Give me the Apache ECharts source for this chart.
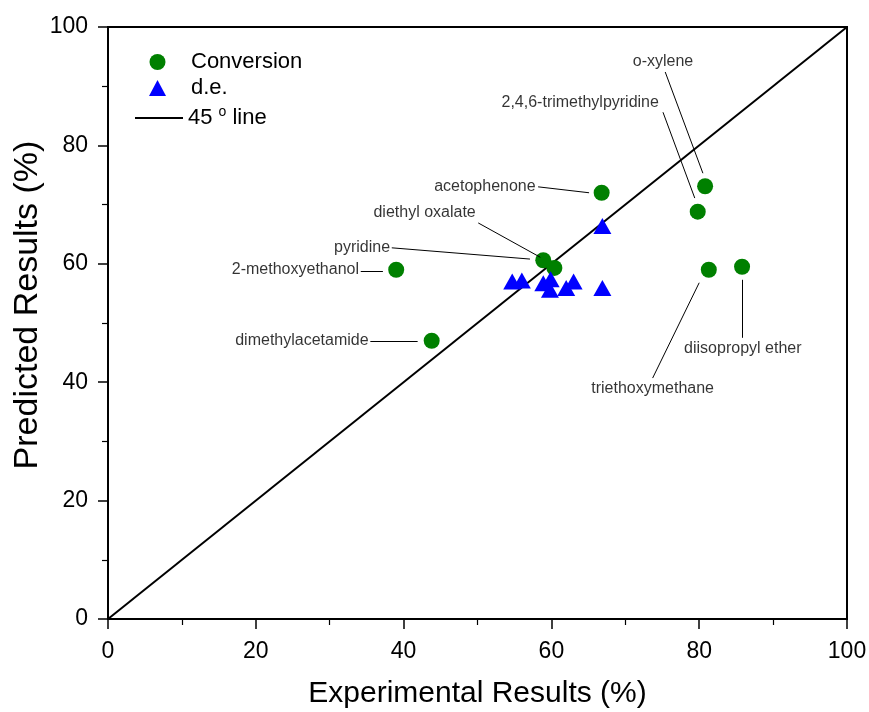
<!DOCTYPE html>
<html>
<head>
<meta charset="utf-8">
<script src="https://cdn.jsdelivr.net/npm/echarts@6/dist/echarts.min.js"></script>
<style>
  html, body { margin: 0; padding: 0; background: #fff; }
  #main { width: 869px; height: 712px; }
</style>
</head>
<body>
<div id="main"></div>
<script>
// experimental vs predicted (%)
var conversion = [[39.0, 59.0], [43.8, 47.0], [58.9, 60.6], [60.4, 59.3], [66.8, 72.0],
                  [79.8, 68.8], [80.8, 73.1], [81.3, 59.0], [85.8, 59.5]];
var de = [[54.7, 57.0], [56.0, 57.2], [58.9, 56.7], [59.9, 57.4], [59.8, 55.6],
          [62.0, 55.9], [63.0, 57.0], [66.9, 55.9], [66.9, 66.4]];
var diagonal = [[0, 0], [100, 100]];

// solvent annotations (data coordinates)
var labelNames = ['o-xylene', '2,4,6-trimethylpyridine', 'acetophenone', 'diethyl oxalate', 'pyridine',
                  '2-methoxyethanol', 'dimethylacetamide', 'triethoxymethane', 'diisopropyl ether'];
var labelAt = [[75.1, 94.1], [63.9, 87.3], [58.0, 73.0], [49.9, 68.6], [38.3, 62.8],
               [34.1, 59.0], [35.4, 47.0], [73.7, 39.0], [85.9, 45.6]];
var labelAlign = ['center', 'center', 'right', 'right', 'right', 'right', 'right', 'center', 'center'];
var leaderFrom = [[75.4, 92.4], [75.1, 85.6], [58.2, 73.0], [50.1, 66.9], [38.4, 62.7],
                  [34.2, 58.8], [35.5, 47.0], [73.7, 40.7], [85.8, 57.3]];
var leaderTo = [[80.5, 75.3], [79.4, 71.1], [65.1, 72.0], [58.5, 61.1], [57.1, 60.8],
                [37.2, 58.8], [41.9, 47.0], [80.0, 56.8], [85.8, 47.5]];

var xTicks = [0, 20, 40, 60, 80, 100];

var font = '"Liberation Sans", Arial, sans-serif';
var myChart = echarts.init(document.getElementById('main'));

var labelData = labelNames.map(function (n, i) {
    return {
        name: n,
        value: labelAt[i],
        label: labelAlign[i] == 'right' ? {position: 'left', distance: 1} : {position: 'inside'}
    };
});
var leaderData = leaderFrom.map(function (p, i) {
    return [{coord: p}, {coord: leaderTo[i]}];
});

function makeAxis(extra) {
    var a = {
        type: 'value',
        min: xTicks[0],
        max: xTicks[xTicks.length - 1],
        interval: 20,
        splitLine: {show: false},
        axisLine: {show: true, onZero: false, lineStyle: {color: '#000', width: 2}},
        axisTick: {show: true, inside: false, length: 10, lineStyle: {color: '#000', width: 1.5}},
        minorTick: {show: true, splitNumber: 2, length: 6, lineStyle: {color: '#000', width: 1.2}},
        nameLocation: 'middle',
        nameMoveOverlap: false
    };
    for (var k in extra) a[k] = extra[k];
    return a;
}

var option = {
    animation: false,
    backgroundColor: '#fff',
    grid: {
        left: 108, right: 22, top: 27, bottom: 93,
        outerBoundsMode: 'none',
        show: true, borderColor: '#000', borderWidth: 2, backgroundColor: 'transparent'
    },
    xAxis: makeAxis({
        name: 'Experimental Results (%)',
        nameGap: 60,
        nameTextStyle: {color: '#000', fontSize: 30, fontFamily: font},
        axisLabel: {color: '#000', fontSize: 23, fontFamily: font, margin: 21}
    }),
    yAxis: makeAxis({
        name: 'Predicted Results (%)',
        nameGap: 63,
        nameTextStyle: {color: '#000', fontSize: 34, fontFamily: font, padding: [0, 0, 0, 36]},
        axisLabel: {color: '#000', fontSize: 23, fontFamily: font, margin: 20}
    }),
    legend: [{
        orient: 'vertical',
        left: 144,
        top: 46,
        itemWidth: 17,
        itemHeight: 16,
        itemGap: 4,
        data: [{name: 'Conversion', icon: 'circle'}, {name: 'd.e.', icon: 'triangle'}],
        textStyle: {color: '#000', fontSize: 22, fontFamily: font, padding: [0, 0, 0, 20]}
    }, {
        orient: 'vertical',
        left: 130,
        top: 100,
        itemWidth: 48,
        itemHeight: 2,
        data: [{name: '45 o line', icon: 'rect'}],
        itemStyle: {color: '#000'},
        formatter: function (name) {
            return '45 {sup|o} line';
        },
        textStyle: {
            color: '#000', fontSize: 22, fontFamily: font,
            rich: {sup: {fontSize: 14, fontFamily: font, padding: [0, 0, 12, 0]}}
        }
    }],
    series: [{
        name: '45 o line',
        type: 'line',
        data: diagonal,
        symbol: 'none',
        lineStyle: {color: '#000', width: 2},
        itemStyle: {color: '#000'},
        z: 1
    }, {
        name: 'Conversion',
        type: 'scatter',
        data: conversion,
        symbol: 'circle',
        symbolSize: 16,
        itemStyle: {color: '#008000', opacity: 1},
        z: 3
    }, {
        name: 'd.e.',
        type: 'scatter',
        data: de,
        symbol: 'triangle',
        symbolSize: [18, 16],
        itemStyle: {color: '#0000ff', opacity: 1},
        z: 3
    }, {
        name: 'labels',
        type: 'scatter',
        data: labelData,
        symbolSize: 0,
        silent: true,
        label: {
            show: true,
            formatter: '{b}',
            color: '#000',
            fontSize: 16,
            fontFamily: font
        },
        markLine: {
            silent: true,
            symbol: 'none',
            label: {show: false},
            lineStyle: {color: '#000', width: 1, type: 'solid'},
            data: leaderData
        },
        z: 2
    }]
};
myChart.setOption(option);
</script>
</body>
</html>
